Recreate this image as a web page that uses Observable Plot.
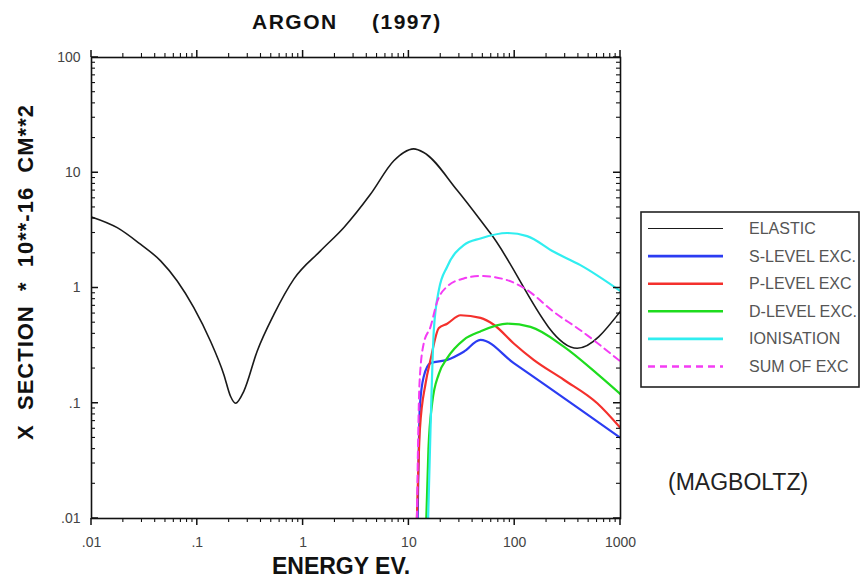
<!DOCTYPE html>
<html><head><meta charset="utf-8">
<script src="https://cdn.jsdelivr.net/npm/d3@7"></script>
<script src="https://cdn.jsdelivr.net/npm/@observablehq/plot@0.6"></script>
<style>body{margin:0;background:#fff} #chart{width:863px;height:578px}</style>
</head><body><div id="chart"></div>
<script>
// Energies (eV) and cross sections (10^-16 cm^2)
const elasticE = [0.01, 0.0175, 0.029, 0.045, 0.0646, 0.0927, 0.133, 0.178, 0.206, 0.23, 0.275, 0.368, 0.53, 0.82, 1.46, 2.43, 4.33, 7.2, 8.95, 11.1, 13.8, 28.6, 59, 390, 1000];
const elasticQ = [4.14, 3.34, 2.40, 1.72, 1.15, 0.675, 0.347, 0.178, 0.115, 0.1, 0.127, 0.283, 0.59, 1.2, 2.1, 3.35, 6.5, 12.7, 15.0, 16.1, 15.0, 7.05, 2.98, 0.30, 0.63];
const sLevelE = [12.1, 12.7, 13.8, 16.0, 23, 33, 47.5, 98, 203, 418, 1000];
const sLevelQ = [0.01, 0.094, 0.17, 0.223, 0.238, 0.28, 0.355, 0.223, 0.14, 0.088, 0.05];
const pLevelE = [11.9, 12.7, 14.4, 16.0, 19.2, 23, 30.8, 47.5, 63.5, 98, 151, 291, 603, 1000];
const pLevelQ = [0.01, 0.059, 0.15, 0.238, 0.45, 0.49, 0.58, 0.55, 0.48, 0.33, 0.238, 0.16, 0.10, 0.061];
const dLevelE = [14.6, 15.3, 16.6, 19.2, 23, 33, 47.5, 85, 141, 291, 603, 1000];
const dLevelQ = [0.01, 0.04, 0.1, 0.18, 0.246, 0.355, 0.42, 0.49, 0.46, 0.31, 0.18, 0.12];
const ionE = [15.2, 16.0, 17.2, 19.2, 23, 33, 47.5, 85, 131, 234, 418, 1000];
const ionQ = [0.01, 0.059, 0.43, 0.96, 1.53, 2.36, 2.69, 3.0, 2.82, 2.06, 1.58, 0.94];
const sumE = [11.9, 12.6, 13.8, 16.0, 18.5, 23, 33, 47.5, 85, 131, 234, 418, 1000];
const sumQ = [0.01, 0.15, 0.33, 0.46, 0.76, 1.03, 1.21, 1.27, 1.17, 0.96, 0.62, 0.43, 0.23];

const seriesNames = ["ELASTIC", "S-LEVEL EXC.", "P-LEVEL EXC", "D-LEVEL EXC.", "IONISATION", "SUM OF EXC"];
const xMajor = [0.01, 0.1, 1, 10, 100, 1000];
const xLabels = [".01", ".1", "1", "10", "100", "1000"];
const yMajor = [0.01, 0.1, 1, 10, 100];
const yLabels = [".01", ".1", "1", "10", "100"];
const minorMult = [2, 3, 4, 5, 6, 7, 8, 9];

const seriesData = [
  {E: elasticE, Q: elasticQ, color: "#1a1a1a", w: 1.6, dash: null},
  {E: sLevelE, Q: sLevelQ, color: "#2b3cf2", w: 2.2, dash: null},
  {E: pLevelE, Q: pLevelQ, color: "#f4302c", w: 2.2, dash: null},
  {E: dLevelE, Q: dLevelQ, color: "#1edc1e", w: 2.2, dash: null},
  {E: ionE, Q: ionQ, color: "#30eef0", w: 2.2, dash: null},
  {E: sumE, Q: sumQ, color: "#f43cf4", w: 2.0, dash: "7,5"}
];

const W = 863, H = 578, mL = 91, mR = 243, mT = 57, mB = 60;
const xMinor = xMajor.slice(0, -1).flatMap(d => minorMult.map(m => d * m));
const yMinor = yMajor.slice(0, -1).flatMap(d => minorMult.map(m => d * m));
const xLab = new Map(xMajor.map((d, i) => [d, xLabels[i]]));
const yLab = new Map(yMajor.map((d, i) => [d, yLabels[i]]));

const lineMarks = seriesData.map(s =>
  Plot.line(s.E.map((e, i) => ({e, q: s.Q[i]})), {
    x: "e", y: "q", stroke: s.color, strokeWidth: s.w,
    strokeDasharray: s.dash, curve: "monotone-x", clip: true
  })
);

const plot = Plot.plot({
  width: W, height: H,
  marginLeft: mL, marginRight: mR, marginTop: mT, marginBottom: mB,
  style: {fontFamily: "'Liberation Sans', Arial, sans-serif", color: "#333", background: "#fff"},
  x: {type: "log", domain: [0.01, 1000]},
  y: {type: "log", domain: [0.01, 100]},
  marks: [
    ...lineMarks,
    Plot.axisX({anchor: "bottom", ticks: xMajor, tickSize: 0, tickPadding: 19, tickFormat: d => xLab.get(d), fontSize: 14, label: null, fill: "#444"}),
    Plot.axisY({anchor: "left", ticks: yMajor, tickSize: 0, tickPadding: 11, tickFormat: d => yLab.get(d), fontSize: 14, label: null, fill: "#444"}),
    Plot.frame({stroke: "#111", strokeWidth: 1.6})
  ]
});
document.getElementById("chart").appendChild(plot);

const svg = d3.select(plot);
const sx = plot.scale("x"), sy = plot.scale("y");
const x0 = sx.apply(xMajor[0]), x1 = sx.apply(xMajor[xMajor.length - 1]);
const y0 = sy.apply(yMajor[0]), y1 = sy.apply(yMajor[yMajor.length - 1]);

// ticks drawn through Plot's own scales: x outward (top & bottom), y inward (left & right)
const tg = svg.append("g").attr("stroke", "#111");
function xTick(v, len, w) {
  const px = sx.apply(v);
  tg.append("line").attr("x1", px).attr("x2", px).attr("y1", y0).attr("y2", y0 + len).attr("stroke-width", w);
  tg.append("line").attr("x1", px).attr("x2", px).attr("y1", y1).attr("y2", y1 - len).attr("stroke-width", w);
}
function yTick(v, len, w) {
  const py = sy.apply(v);
  tg.append("line").attr("x1", x0).attr("x2", x0 + len).attr("y1", py).attr("y2", py).attr("stroke-width", w);
  tg.append("line").attr("x1", x1).attr("x2", x1 - len).attr("y1", py).attr("y2", py).attr("stroke-width", w);
}
xMajor.forEach(v => xTick(v, 7, 1.5));
xMinor.forEach(v => xTick(v, 4, 1.1));
yMajor.forEach(v => yTick(v, 7, 1.5));
yMinor.forEach(v => yTick(v, 4, 1.1));

const font = "'Liberation Sans', Arial, sans-serif";
function txt(x, y, s, size, opts = {}) {
  return svg.append("text").attr("x", x).attr("y", y)
    .attr("text-anchor", opts.anchor || "start").attr("font-family", font)
    .attr("font-weight", opts.bold ? "bold" : "normal").attr("font-size", size)
    .attr("letter-spacing", opts.ls || 0).attr("fill", opts.fill || "#111").text(s);
}
// title
txt(252, 29, "ARGON", 21, {bold: true, ls: 1.5});
txt(372, 29, "(1997)", 21, {bold: true, ls: 1.5});
// x label
txt(341, 574, "ENERGY EV.", 23, {bold: true, anchor: "middle"});
// y label
const NB = "\u00a0\u00a0";
svg.append("text").attr("transform", "translate(33,272) rotate(-90)").attr("text-anchor", "middle")
  .attr("font-family", font).attr("font-weight", "bold").attr("font-size", 22).attr("letter-spacing", 1)
  .attr("fill", "#111").text(["X", "SECTION", "*", "10**-16", "CM**2"].join(NB));
// MAGBOLTZ
txt(668, 490, "(MAGBOLTZ)", 23, {fill: "#222"});
// legend
const lg = svg.append("g");
lg.append("rect").attr("x", 641).attr("y", 212).attr("width", 218).attr("height", 175)
  .attr("fill", "#fff").attr("stroke", "#222").attr("stroke-width", 1.6);
seriesData.forEach((s, i) => {
  const y = 228.5 + i * 27.6;
  lg.append("line").attr("x1", 648).attr("x2", 723).attr("y1", y).attr("y2", y)
    .attr("stroke", s.color).attr("stroke-width", i === 0 ? 1.2 : 2.6)
    .attr("stroke-dasharray", s.dash);
  lg.append("text").attr("x", 749).attr("y", y + 5.5).attr("text-anchor", "start")
    .attr("font-family", font).attr("font-size", 16).attr("fill", "#555").text(seriesNames[i]);
});
</script></body></html>
